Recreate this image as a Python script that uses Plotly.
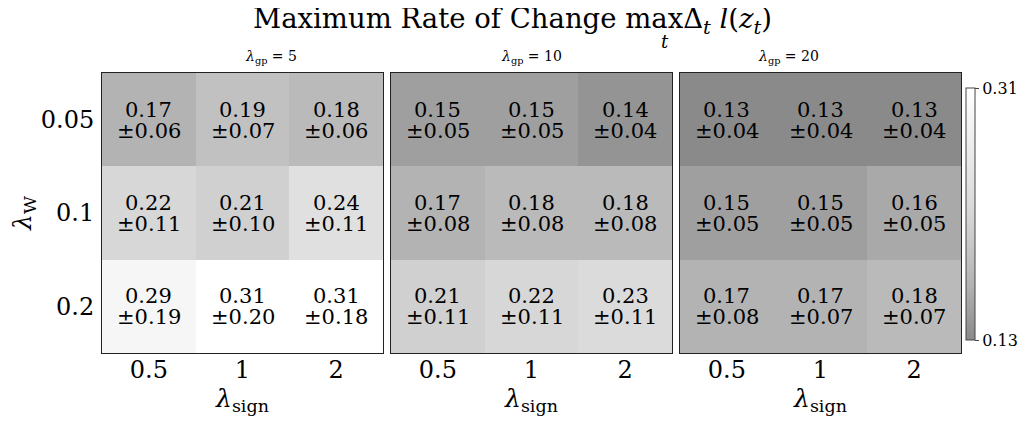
import plotly.graph_objects as go

lambda_sign = ["0.5", "1", "2"]
lambda_w = ["0.05", "0.1", "0.2"]
lambda_gp = [5, 10, 20]

mean_gp5 = [[0.17, 0.19, 0.18], [0.22, 0.21, 0.24], [0.29, 0.31, 0.31]]
std_gp5 = [[0.06, 0.07, 0.06], [0.11, 0.10, 0.11], [0.19, 0.20, 0.18]]
mean_gp10 = [[0.15, 0.15, 0.14], [0.17, 0.18, 0.18], [0.21, 0.22, 0.23]]
std_gp10 = [[0.05, 0.05, 0.04], [0.08, 0.08, 0.08], [0.11, 0.11, 0.11]]
mean_gp20 = [[0.13, 0.13, 0.13], [0.15, 0.15, 0.16], [0.17, 0.17, 0.18]]
std_gp20 = [[0.04, 0.04, 0.04], [0.05, 0.05, 0.05], [0.08, 0.07, 0.07]]

means = [mean_gp5, mean_gp10, mean_gp20]
stds = [std_gp5, std_gp10, std_gp20]
vmin, vmax = 0.13, 0.31

# page has an 8px body margin: figure drawn at offset (8, 8)
OFF = 8
W, H = 1022, 413
FONT = "DejaVu Serif"


def px(x):
    return (x - OFF) / W


def py(y):
    return 1 - (y - OFF) / H


panels_px = [(102, 383), (391, 672), (680, 961)]
ytop, ybot = 73, 353
ydom = [py(ybot), py(ytop)]

colorscale = [[0.0, "rgb(138,138,138)"], [0.222, "rgb(179,179,179)"],
              [0.5, "rgb(215,215,215)"], [1.0, "rgb(255,255,255)"]]

fig = go.Figure()
layout = {}
annotations = []
for i in range(3):
    xa = "x" if i == 0 else f"x{i+1}"
    ya = "y" if i == 0 else f"y{i+1}"
    fig.add_trace(go.Heatmap(
        z=means[i], x=lambda_sign, y=lambda_w,
        colorscale=colorscale, zmin=vmin, zmax=vmax, showscale=(i == 2),
        xaxis=xa, yaxis=ya, hoverinfo="skip",
        colorbar=dict(thickness=9, len=252 / H, lenmode="fraction", x=px(966), xanchor="left",
                      xpad=0, ypad=0, y=py(214), yanchor="middle", tickvals=[vmin, vmax],
                      ticktext=["0.13", "0.31"], ticks="outside", ticklen=4,
                      tickfont=dict(family=FONT, size=16, color="black"),
                      outlinewidth=1, outlinecolor="#444"),
    ))
    for r in range(len(lambda_w)):
        for c in range(len(lambda_sign)):
            annotations.append(dict(
                text=f"{means[i][r][c]:.2f}", x=c, y=r, yshift=10,
                xref=xa, yref=ya, showarrow=False,
                font=dict(family=FONT, size=21, color="black")))
            annotations.append(dict(
                text=f"±{stds[i][r][c]:.2f}", x=c, y=r, yshift=-11,
                xref=xa, yref=ya, showarrow=False,
                font=dict(family=FONT, size=21, color="black")))
    x0, x1 = panels_px[i]
    layout["xaxis" if i == 0 else f"xaxis{i+1}"] = dict(
        type="category", domain=[px(x0), px(x1)], anchor=ya, showline=True, mirror=True,
        linecolor="#222", linewidth=1, ticks="", ticklabelstandoff=-5,
        tickfont=dict(family=FONT, size=24, color="black"),
        title=dict(text="<i>λ</i><sub>sign</sub>", font=dict(family=FONT, size=25, color="black"), standoff=0),
        fixedrange=True)
    layout["yaxis" if i == 0 else f"yaxis{i+1}"] = dict(
        type="category", domain=ydom, anchor=xa, showline=True, mirror=True, linecolor="#222",
        linewidth=1, autorange="reversed", ticks="", showticklabels=(i == 0), ticklabelstandoff=2,
        tickfont=dict(family=FONT, size=24, color="black"),
        title=dict(text="<i>λ</i><sub>W</sub>" if i == 0 else "",
                   font=dict(family=FONT, size=25, color="black"), standoff=10),
        fixedrange=True)
    annotations.append(dict(text=f"<i>λ</i><sub>gp</sub> = {lambda_gp[i]}", x=px((x0 + x1) / 2), y=py(57),
                            xref="paper", yref="paper", showarrow=False, yanchor="middle",
                            font=dict(family=FONT, size=14, color="black")))

annotations.append(dict(text="Maximum Rate of Change maxΔ<sub><i>t</i></sub> <i>l</i>(<i>z</i><sub><i>t</i></sub>)",
                        x=px(512), y=py(21), xref="paper", yref="paper", showarrow=False,
                        yanchor="middle", font=dict(family=FONT, size=27.5, color="black")))
annotations.append(dict(text="<i>t</i>", x=px(665), y=py(42), xref="paper", yref="paper",
                        showarrow=False, yanchor="middle", font=dict(family=FONT, size=18, color="black")))

fig.update_layout(width=W, height=H, margin=dict(l=0, r=0, t=0, b=0),
                  paper_bgcolor="white", plot_bgcolor="white", annotations=annotations, **layout)
fig.write_html("out.html")
